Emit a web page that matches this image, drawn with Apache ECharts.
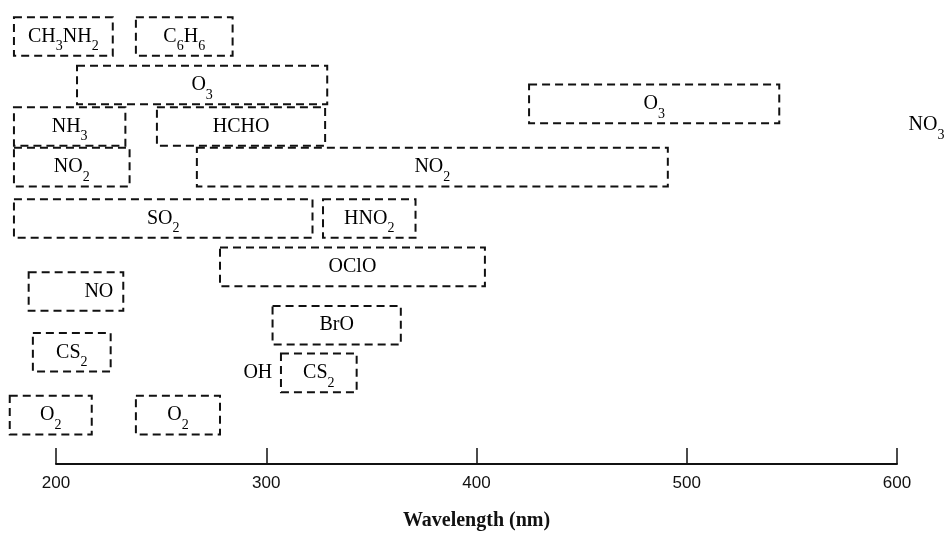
<!DOCTYPE html>
<html>
<head>
<meta charset="utf-8">
<script src="https://cdn.jsdelivr.net/npm/echarts@6/dist/echarts.min.js"></script>
<style>
  html, body { margin: 0; padding: 0; background: #fff; }
  #chart { width: 948px; height: 533px; }
</style>
</head>
<body>
<div id="chart"></div>
<script>
// Absorption ranges (nm) of atmospheric species, one dashed band each
const species   = ['CH3NH2', 'C6H6', 'O3', 'O3', 'NH3', 'HCHO', 'NO2', 'NO2', 'SO2', 'HNO2', 'OClO', 'NO', 'BrO', 'CS2', 'CS2', 'O2', 'O2'];
const bandStart = [180, 238, 210, 425, 180, 248, 180, 267, 180, 327, 278, 187, 303, 189, 307, 178, 238];
const bandEnd   = [227, 284, 329, 544, 233, 328, 235, 491, 322, 371, 404, 232, 364, 226, 343, 217, 278];
const bandLane  = [0.89, 0.89, 2.07, 2.53, 3.08, 3.08, 4.07, 4.07, 5.32, 5.32, 6.50, 7.10, 7.92, 8.58, 9.08, 10.11, 10.11];

// Species named without a band
const looseNames = ['OH', 'NO3'];
const looseWave  = [296, 614];
const looseLane  = [9.08, 3.05];

const tickValues = [200, 300, 400, 500, 600];

// Turn digits in a formula into subscripts
function formula(name) {
  return name.replace(/(\d)/g, '{s|$1}');
}

const SERIF = '"Liberation Serif", "DejaVu Serif", serif';
const LANE_BOX = 0.94;
const textStyleBase = {
  fill: '#000',
  fontFamily: SERIF,
  fontSize: 20,
  lineHeight: 34,
  align: 'center',
  verticalAlign: 'middle',
  rich: {
    s: { fontFamily: SERIF, fontSize: 14, verticalAlign: 'bottom', fill: '#000' }
  }
};

const bandData = species.map((n, i) => [bandStart[i], bandEnd[i], bandLane[i], i]);
const looseData = looseNames.map((n, i) => [looseWave[i], looseLane[i], i]);

const chart = echarts.init(document.getElementById('chart'));
chart.setOption({
  animation: false,
  backgroundColor: '#fff',
  grid: { left: 56, right: 51, top: 0, bottom: 69, outerBoundsMode: 'none', containLabel: false },
  xAxis: {
    type: 'value',
    position: 'bottom',
    min: 200,
    max: 600,
    interval: 100,
    name: 'Wavelength (nm)',
    nameLocation: 'middle',
    nameGap: 47,
    nameTextStyle: { fontFamily: SERIF, fontWeight: 'bold', fontSize: 20, color: '#111' },
    axisLine: { onZero: false, lineStyle: { color: '#111', width: 2 } },
    axisTick: { inside: true, length: 16, lineStyle: { color: '#111', width: 1.5 } },
    axisLabel: {
      margin: 11,
      fontFamily: '"Liberation Sans", sans-serif',
      fontSize: 17,
      color: '#111',
      customValues: tickValues
    },
    splitLine: { show: false }
  },
  yAxis: {
    type: 'value',
    min: 0,
    max: 11.3,
    inverse: true,
    show: false
  },
  series: [
    {
      type: 'custom',
      clip: false,
      data: bandData,
      renderItem: function (params, api) {
        const lane = api.value(2);
        const a = api.coord([api.value(0), lane]);
        const b = api.coord([api.value(1), lane]);
        const h = api.size([0, LANE_BOX])[1];
        const name = species[api.value(3)];
        const w = b[0] - a[0];
        const rightLabel = name === 'NO';
        return {
          type: 'group',
          children: [
            {
              type: 'rect',
              shape: { x: a[0], y: a[1] - h / 2, width: w, height: h },
              style: { fill: 'none', stroke: '#111', lineWidth: 2, lineDash: [8, 5] }
            },
            {
              type: 'text',
              x: rightLabel ? b[0] - 10 : a[0] + w / 2,
              y: a[1],
              style: Object.assign({}, textStyleBase, {
                text: formula(name),
                align: rightLabel ? 'right' : 'center'
              })
            }
          ]
        };
      }
    },
    {
      type: 'custom',
      clip: false,
      data: looseData,
      renderItem: function (params, api) {
        const p = api.coord([api.value(0), api.value(1)]);
        return {
          type: 'text',
          x: p[0],
          y: p[1],
          style: Object.assign({}, textStyleBase, { text: formula(looseNames[api.value(2)]) })
        };
      }
    }
  ]
});
</script>
</body>
</html>
